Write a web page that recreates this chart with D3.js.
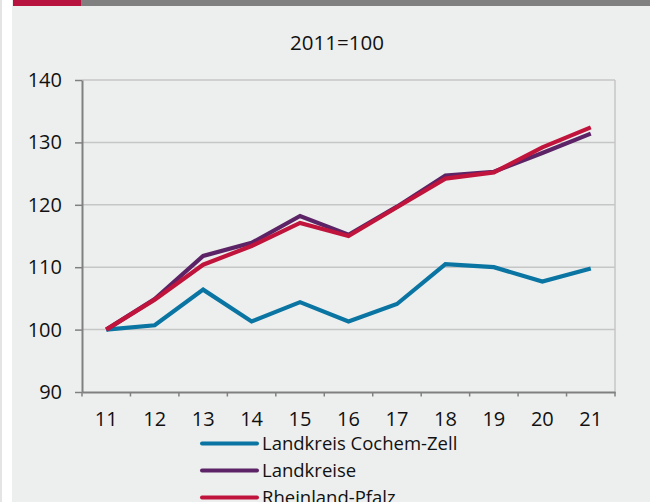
<!DOCTYPE html>
<html>
<head>
<meta charset="utf-8">
<script src="https://cdn.jsdelivr.net/npm/d3@7"></script>
<style>
  html, body { margin: 0; padding: 0; background: #ffffff; }
  svg { display: block; font-family: "Open Sans", "Noto Sans", sans-serif; }
</style>
</head>
<body>
<svg id="chart" width="655" height="502"></svg>
<script>
// Years (two-digit labels, 2011–2021)
const years = ["11", "12", "13", "14", "15", "16", "17", "18", "19", "20", "21"];

// Index values, 2011 = 100
const cochemZell = [100, 100.7, 106.4, 101.3, 104.4, 101.3, 104.1, 110.5, 110.0, 107.7, 109.8];
const landkreise = [100, 104.9, 111.8, 113.9, 118.2, 115.2, 119.7, 124.7, 125.3, 128.3, 131.4];
const rheinlandPfalz = [100, 104.8, 110.4, 113.4, 117.1, 115.0, 119.6, 124.2, 125.2, 129.2, 132.4];

const seriesNames = ["Landkreis Cochem-Zell", "Landkreise", "Rheinland-Pfalz"];
const seriesValues = [cochemZell, landkreise, rheinlandPfalz];
const seriesColors = ["#0a75a2", "#5c2466", "#c0143c"];

const yTicks = [90, 100, 110, 120, 130, 140];
const title = "2011=100";

const fontFamily = "\"Open Sans\", \"Noto Sans\", sans-serif";
const svg = d3.select("#chart");

// page frame
svg.append("rect").attr("x", 0).attr("y", 0).attr("width", 2).attr("height", 502).attr("fill", "#e4e4e4");
svg.append("rect").attr("x", 12).attr("y", 0).attr("width", 638).attr("height", 502).attr("fill", "#edefee");
svg.append("rect").attr("x", 13).attr("y", 0).attr("width", 68).attr("height", 6).attr("fill", "#b8123f");
svg.append("rect").attr("x", 81).attr("y", 0).attr("width", 569).attr("height", 6).attr("fill", "#808080");

// scales
const x = d3.scaleBand().domain(years).range([82, 615]).padding(0);
const y = d3.scaleLinear().domain([90, 140]).range([392, 80]);
const cx = d => x(d) + x.bandwidth() / 2;

// title
svg.append("text")
  .attr("x", 337).attr("y", 50)
  .attr("text-anchor", "middle")
  .attr("font-size", 20.5)
  .attr("fill", "#111")
  .text(title);

// horizontal gridlines
svg.append("g").selectAll("line")
  .data(yTicks.filter(t => t > 90))
  .join("line")
  .attr("x1", 82).attr("x2", 615)
  .attr("y1", d => y(d)).attr("y2", d => y(d))
  .attr("stroke", "#c6c6c6").attr("stroke-width", 1.5);

// right frame line
svg.append("line")
  .attr("x1", 615).attr("x2", 615)
  .attr("y1", y(140)).attr("y2", y(90))
  .attr("stroke", "#c6c6c6").attr("stroke-width", 1.5);

// y axis
const yAxis = svg.append("g")
  .attr("transform", "translate(82,0)")
  .call(d3.axisLeft(y).tickValues(yTicks).tickSize(7).tickPadding(13).tickSizeOuter(0));
yAxis.select(".domain").attr("stroke", "#808080").attr("stroke-width", 2);
yAxis.selectAll(".tick line").attr("stroke", "#808080").attr("stroke-width", 1.5);
yAxis.selectAll(".tick text").attr("font-size", 20).attr("fill", "#111")
  .attr("font-family", fontFamily);

// x axis: labels centred in each band, ticks on band boundaries
const xAxis = svg.append("g")
  .attr("transform", `translate(0,${y(90)})`)
  .call(d3.axisBottom(x).tickSize(0).tickPadding(0).tickSizeOuter(0));
xAxis.select(".domain").attr("stroke", "#808080").attr("stroke-width", 2);
xAxis.selectAll(".tick text")
  .attr("font-size", 20).attr("fill", "#111")
  .attr("font-family", fontFamily)
  .attr("dy", null).attr("y", 33.5);

const boundaries = years.map(d => x(d)).concat([x.range()[1]]);
svg.append("g").selectAll("line")
  .data(boundaries)
  .join("line")
  .attr("x1", d => d).attr("x2", d => d)
  .attr("y1", y(90)).attr("y2", y(90) + 4.5)
  .attr("stroke", "#808080").attr("stroke-width", 1.5);

// series lines
const line = d3.line()
  .x((d, i) => cx(years[i]))
  .y(d => y(d));

svg.append("g").selectAll("path")
  .data(seriesValues)
  .join("path")
  .attr("d", d => line(d))
  .attr("fill", "none")
  .attr("stroke", (d, i) => seriesColors[i])
  .attr("stroke-width", 4.2)
  .attr("stroke-linejoin", "miter");

// legend
const legend = svg.append("g").selectAll("g")
  .data(seriesNames)
  .join("g")
  .attr("transform", (d, i) => `translate(202,${443.5 + i * 27})`);
legend.append("line")
  .attr("x1", 0).attr("x2", 55)
  .attr("stroke", (d, i) => seriesColors[i])
  .attr("stroke-width", 4)
  .attr("stroke-linecap", "round");
legend.append("text")
  .attr("x", 60).attr("y", 0).attr("dy", "0.35em")
  .attr("font-size", 18.5).attr("fill", "#111")
  .text(d => d);
</script>
</body>
</html>
